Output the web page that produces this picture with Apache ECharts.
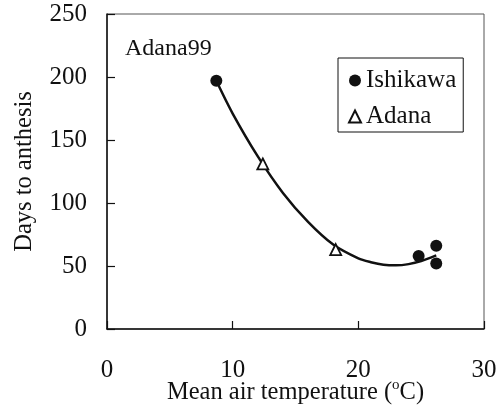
<!DOCTYPE html>
<html><head><meta charset="utf-8">
<script src="https://cdn.jsdelivr.net/npm/echarts@6/dist/echarts.min.js"></script>
<style>html,body{margin:0;padding:0;background:#fff}#c{width:499px;height:413px}</style>
</head><body><div id="c"></div>
<script>
// Data
var ishikawaX = [8.7, 24.8, 26.2, 26.2];
var ishikawaY = [197, 58, 66, 52];
var adanaX = [12.4, 18.2];
var adanaY = [131, 63];
var curveX = [8.7, 10, 12, 14, 16, 18, 20, 21, 22, 23, 24, 25, 26.2];
var curveY = [197, 171, 137, 108, 85, 67, 56, 53, 51, 50.5, 51.5, 54, 58.5];
var xTicks = [0, 10, 20, 30];
var yTicks = [0, 50, 100, 150, 200, 250];

function pairs(xs, ys){ return xs.map(function(x,i){ return [x, ys[i]]; }); }
var F = 'Liberation Serif';
var chart = echarts.init(document.getElementById('c'));
chart.setOption({
  animation: false,
  backgroundColor: '#fff',
  title: { text: 'Adana99', left: 120, top: 32,
    textStyle: { fontFamily: F, fontSize: 24, fontWeight: 'normal', color: '#111' } },
  legend: {
    data: [{name:'Ishikawa', icon:'circle'}, {name:'Adana', icon:'triangle'}],
    orient: 'vertical', left: 338, top: 58,
    padding: [10, 7, 3, 10], itemGap: 11, itemWidth: 12, itemHeight: 12,
    borderColor: '#111', borderWidth: 1,
    textStyle: { fontFamily: F, fontSize: 25, color: '#111' }
  },
  grid: { left: 107, right: 15, top: 14, bottom: 84, show: true, borderColor: '#555', borderWidth: 1,
    containLabel: false, outerBoundsMode: 'none' },
  xAxis: {
    type: 'value', min: xTicks[0], max: xTicks[xTicks.length-1], interval: 10,
    name: '{a|Mean air temperature (}{s|o}{a|C)}', nameLocation: 'middle', nameGap: 49,
    nameMoveOverlap: false,
    nameTextStyle: { rich: {
      a: { fontFamily: F, fontSize: 24.5, color: '#111', lineHeight: 30 },
      s: { fontFamily: F, fontSize: 15, color: '#111', lineHeight: 12, verticalAlign: 'top' } } },
    axisLine: { lineStyle: { color: '#111', width: 1.5 } },
    axisTick: { inside: true, length: 8, lineStyle: { color: '#111', width: 1.2 } },
    axisLabel: { margin: 29, fontFamily: F, fontSize: 25, color: '#111' },
    splitLine: { show: false }
  },
  yAxis: {
    type: 'value', min: yTicks[0], max: yTicks[yTicks.length-1], interval: 50,
    name: 'Days to anthesis', nameLocation: 'middle', nameGap: 70,
    nameTextStyle: { fontFamily: F, fontSize: 24.5, color: '#111' },
    axisLine: { lineStyle: { color: '#111', width: 1.5 } },
    axisTick: { inside: true, length: 8, lineStyle: { color: '#111', width: 1.2 } },
    axisLabel: { margin: 20, fontFamily: F, fontSize: 25, color: '#111' },
    splitLine: { show: false }
  },
  series: [
    { name: 'fit', type: 'line', smooth: 0.3, showSymbol: false, data: pairs(curveX, curveY),
      lineStyle: { color: '#111', width: 2.5 }, z: 1 },
    { name: 'Ishikawa', type: 'scatter', symbol: 'circle', symbolSize: 12, data: pairs(ishikawaX, ishikawaY),
      itemStyle: { color: '#111', opacity: 1 }, z: 3 },
    { name: 'Adana', type: 'scatter', symbol: 'triangle', symbolSize: 11, data: pairs(adanaX, adanaY),
      itemStyle: { color: '#fff', borderColor: '#111', borderWidth: 1.8, opacity: 1 }, z: 3 }
  ]
});
</script></body></html>
